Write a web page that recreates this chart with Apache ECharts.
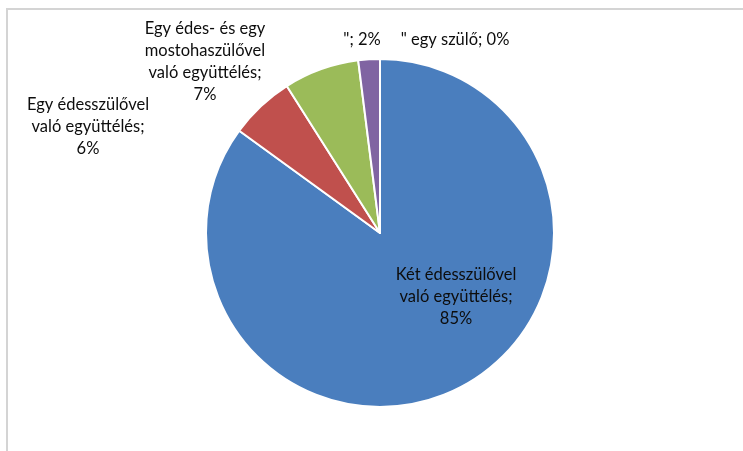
<!DOCTYPE html>
<html>
<head>
<meta charset="utf-8">
<script src="https://cdn.jsdelivr.net/npm/echarts@6/dist/echarts.min.js"></script>
<style>
html,body{margin:0;padding:0;background:#fff;}
#chart{width:743px;height:451px;}
</style>
</head>
<body>
<div id="chart"></div>
<script>
const categories = [
  'Két édesszülővel\nvaló együttélés',
  'Egy édesszülővel\nvaló együttélés',
  'Egy édes- és egy\nmostohaszülővel\nvaló együttélés',
  '"',
  '" egy szülő'
];
const values = [85, 6, 7, 2, 0];
const colors = ['#4A7EBE', '#C0504D', '#9BBB59', '#8064A2', '#4BACC6'];
const multiLine = [true, true, true, false, false];

// label anchor positions (layout only)
const labelPos = [
  [456, 297],
  [88, 127],
  [205, 62],
  [362, 40],
  [455, 40]
];

const chart = echarts.init(document.getElementById('chart'), null, {renderer: 'canvas'});
chart.setOption({
  animation: false,
  backgroundColor: '#fff',
  graphic: [{
    type: 'polyline',
    shape: {points: [[7, 451], [7, 9], [743, 9]]},
    style: {stroke: '#d4d4d4', lineWidth: 2, fill: null},
    silent: true
  }],
  series: [{
    type: 'pie',
    center: [380, 233],
    radius: 174,
    startAngle: 90,
    clockwise: true,
    avoidLabelOverlap: false,
    stillShowZeroSum: true,
    itemStyle: {borderColor: '#fff', borderWidth: 2},
    label: {
      show: true,
      position: 'outside',
      fontFamily: 'Lato',
      fontSize: 16.5,
      color: '#0d0d0d',
      lineHeight: 22,
      align: 'center',
      formatter: function (p) {
        return multiLine[p.dataIndex]
          ? p.name + ';\n' + p.value + '%'
          : p.name + '; ' + p.value + '%';
      }
    },
    labelLine: {show: false},
    labelLayout: function (params) {
      const pos = labelPos[params.dataIndex];
      return {x: pos[0], y: pos[1], align: 'center', verticalAlign: 'middle', hideOverlap: false};
    },
    data: categories.map((c, i) => ({
      name: c,
      value: values[i],
      itemStyle: {color: colors[i]}
    }))
  }]
});
</script>
</body>
</html>
